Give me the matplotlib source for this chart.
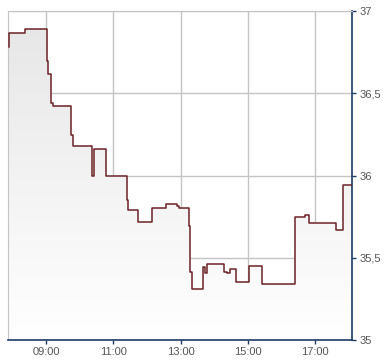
import numpy as np
import matplotlib.pyplot as plt
from matplotlib.ticker import FuncFormatter

# intraday price path (step function, value holds until next time)
times = ["07:53", "07:54", "08:23", "09:02", "09:04", "09:09", "09:12", "09:45",
         "09:48", "10:21", "10:25", "10:47", "11:25", "11:26", "11:44", "12:08",
         "12:33", "12:54", "12:57", "13:14", "13:16", "13:21", "13:40", "13:44",
         "13:47", "14:18", "14:23", "14:28", "14:39", "15:02", "15:25", "16:23",
         "16:42", "16:49", "17:37", "17:50", "18:06"]
prices = [36.78, 36.865, 36.89, 36.695, 36.615, 36.44, 36.425, 36.245,
          36.18, 36.00, 36.16, 36.00, 35.85, 35.79, 35.715, 35.805,
          35.825, 35.815, 35.805, 35.695, 35.415, 35.31, 35.445, 35.405,
          35.46, 35.415, 35.405, 35.43, 35.35, 35.45, 35.34, 35.745,
          35.76, 35.71, 35.67, 35.945, 35.945]

x_ticks = ["09:00", "11:00", "13:00", "15:00", "17:00"]
y_ticks = [35, 35.5, 36, 36.5, 37]
x_start, x_end = "07:52", "18:06"


def to_hours(s):
    h, m = s.split(":")
    return int(h) + int(m) / 60.0


t = np.array([to_hours(s) for s in times])
p = np.array(prices)
xmin, xmax = to_hours(x_start), to_hours(x_end)
ymin, ymax = 35, 37

fig = plt.figure(figsize=(3.9, 3.64), dpi=100)
ax = fig.add_axes([8 / 390, 24 / 364, 344.3 / 390, 329 / 364])

# gradient fill under the step line
st = np.repeat(t, 2)[1:]
sp = np.repeat(p, 2)[:-1]
poly_x = np.concatenate([[st[0]], st, [st[-1]]])
poly_y = np.concatenate([[ymin], sp, [ymin]])
patch = ax.fill(poly_x, poly_y, facecolor="none", edgecolor="none")[0]
grad = np.linspace(0, 1, 256).reshape(-1, 1)
im = ax.imshow(grad, extent=[xmin, xmax, ymin, ymax], aspect="auto",
               cmap=plt.matplotlib.colors.LinearSegmentedColormap.from_list(
                   "g", ["#ffffff", "#e6e6e6"]), origin="lower", zorder=1)
im.set_clip_path(patch)

ax.plot(t, p, drawstyle="steps-post", color="#6b2226", lw=1.1, zorder=3)

ax.set_xlim(xmin, xmax)
ax.set_ylim(ymin, ymax)
ax.set_xticks([to_hours(s) for s in x_ticks])
ax.set_xticklabels(x_ticks)
ax.set_yticks(y_ticks)
ax.yaxis.set_major_formatter(FuncFormatter(lambda v, pos: f"{v:g}".replace(".", ",")))
ax.yaxis.tick_right()

ax.grid(True, color="#c4c4c4", lw=1.0, zorder=0)
ax.set_axisbelow(True)
for side in ["left", "top"]:
    ax.spines[side].set_color("#c4c4c4")
for side in ["right", "bottom"]:
    ax.spines[side].set_color("#1c3a66")
    ax.spines[side].set_linewidth(1.2)

ax.tick_params(axis="both", length=3, width=1, color="#1c3a66",
               labelsize=8, labelcolor="#555555", pad=2)
for lbl in ax.get_xticklabels() + ax.get_yticklabels():
    lbl.set_family(["Liberation Sans", "DejaVu Sans"])

fig.savefig("out.png", dpi=100)
